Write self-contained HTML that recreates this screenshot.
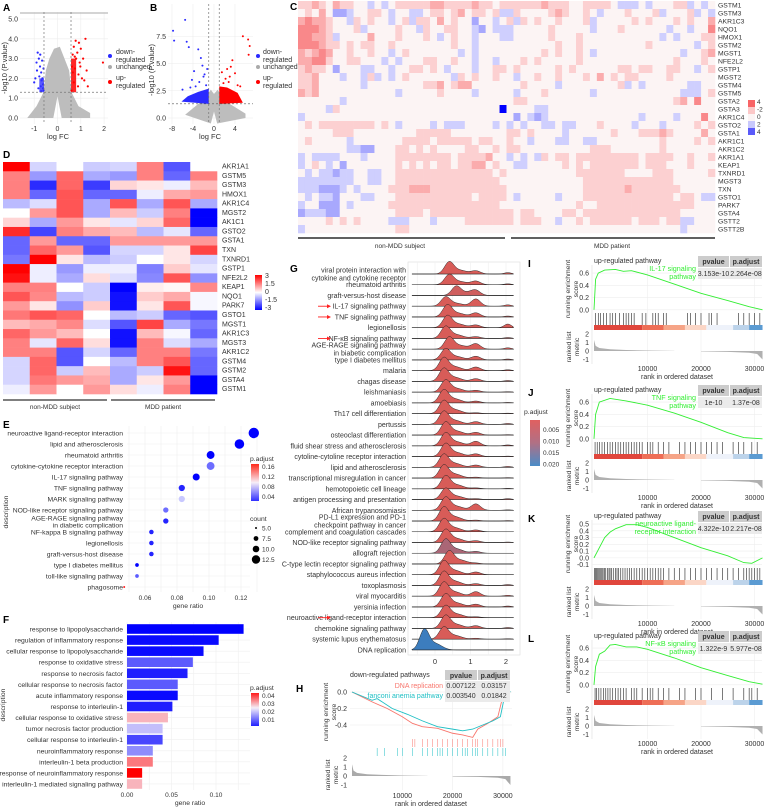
<!DOCTYPE html>
<html><head><meta charset="utf-8"><style>
html,body{margin:0;padding:0;background:#fff}
svg{display:block}
</style></head><body>
<svg id="fig" width="765" height="808" viewBox="0 0 765 808" xmlns="http://www.w3.org/2000/svg" font-family="Liberation Sans, sans-serif"></svg>
<script>
// ---------- DATA ----------
const aBlueX=[-0.6,-0.62,-0.65,-0.7,-0.75,-0.8,-0.85,-0.9,-0.62,-0.68,-0.72,-0.78,-0.95,-1.0,-0.66,-0.74,-0.82,-0.6,-0.7,-0.88];
const aBlueY=[1.4,1.7,2.0,2.3,2.6,3.0,3.3,2.8,1.5,1.9,1.6,2.1,2.0,1.8,2.9,3.2,1.5,2.5,1.35,2.4];
const aRedX=[0.6,0.65,0.7,0.75,0.8,0.85,0.9,0.95,1.0,1.05,1.1,1.2,1.25,0.62,0.7,0.78,0.88,0.98,1.15,1.95,0.66,0.74,0.92,1.3];
const aRedY=[1.4,3.2,3.6,2.5,3.0,3.3,2.2,2.8,3.5,2.0,3.0,4.0,2.4,2.6,1.8,3.9,1.6,2.6,1.9,2.8,2.3,3.1,3.8,1.6];
const aGrayPolyX=[-1.3,-0.9,-0.6,-0.5,-0.35,-0.15,0.1,0.3,0.5,0.6,0.9,1.4,1.4,0.18,0.0,-0.18];
const aGrayPolyY=[0,0.6,1.3,2.4,3.0,3.5,3.6,3.0,2.4,1.3,0.6,0.25,0,0,1.1,0];
const bBlueX=[-7.8,-7.6,-5.5,-5.2,-4.8,-3.0,-2.5,-2.2,-3.8,-4.2,-1.8,-1.5,-2.8,-3.5,-6.0,-4.5,-2.0,-1.3];
const bBlueY=[8.0,7.1,9.0,7.0,6.5,6.3,5.5,4.8,4.3,3.5,4.0,3.0,3.3,2.9,2.6,2.8,3.8,4.5];
const bRedX=[5.5,6.5,6.8,6.6,3.5,3.2,4.0,2.5,2.2,1.8,4.5,5.0,3.0,1.5,2.8];
const bRedY=[7.5,7.2,6.6,5.8,5.3,4.7,4.1,4.5,3.6,3.2,3.0,2.9,3.8,4.2,3.3];
const cGenes=["GSTM1","GSTM3","AKR1C3","NQO1","HMOX1","GSTM2","MGST1","NFE2L2","GSTP1","MGST2","GSTM4","GSTM5","GSTA2","GSTA3","AKR1C4","GSTO2","GSTA1","AKR1C1","AKR1C2","AKR1A1","KEAP1","TXNRD1","MGST3","TXN","GSTO1","PARK7","GSTA4","GSTT2","GSTT2B"];
const cRows=[
"556546554434345555566555565545555556555445555433343444553434",
"454642234455434433455456455453354444565445434445444534445343",
"676654435454434535546454424434535454454445344444545444545446",
"777654445344445443544554432433344444544444344454444443443447",
"776653444464445444543454434443344444544454444444444434344455",
"777655454554454444444454434444444444454454444444445444444345",
"656764454454434544444443434444444445454454344444444444434456",
"667754455444343444554454434434445454444454444444444444544454",
"565542444334434455454344434455454444454544444455455445544345",
"556444344353434544444435454454434454454445464545544445444444",
"556444444344444444556456644444445444434444444453434444443344",
"656444444444443444445444434444434445444444344444444444433345",
"444444344444444444444444444444455444444444444444444444564744",
"444435444444444444444444444440444433444444444444444444444444",
"344444444444444444444444444444424323444444444444434444344474",
"454555555554543444434333444434343443343344454444344434444545",
"444445554444444445555544444444554544443444444544455565444464",
"454444434444444555545555545544544344433443344444444454444545",
"444444433224445545454444554454554444444444555444444454444444",
"343333444344445555555545555644343435455455555555545555445445",
"345434244444445454545545566454433444445454555555545554445444",
"434332334433445555555555555545444444444455555554444555444445",
"333333334433445555555555555554444444444445555555555555444444",
"333222343444455566655555555555444444444445555556555555544444",
"434332444334445555555555545555434444434445555555555555455433",
"344222434444455555555555555554444444444454455555555555555444",
"233322444444445555455555555555545544445545555555555555544444",
"444454545444433344434444555555545554434454555555455545533444",
"344444444444445544444444444444444444444444444444444444434444"];
const dGenes=["AKR1A1","GSTM5","GSTM3","HMOX1","AKR1C4","MGST2","AK1C1","GSTO2","GSTA1","TXN","TXNRD1","GSTP1","NFE2L2","KEAP1","NQO1","PARK7","GSTO1","MGST1","AKR1C3","MGST3","AKR1C2","GSTM4","GSTM2","GSTA4","GSTM1"];
const dVals=[
[3,-0.5,0,-0.6,-0.5,1.5,-2,0],[1.5,-1.2,1.8,-1,-1.2,1.5,-1.8,1.5],[1.5,-2.5,1.8,-2.3,0.5,0.3,-0.2,0.8],
[1.5,-1.8,2,-1.8,-1.8,-0.2,1,1.2],[-0.8,-0.4,2,-1,2,-1,2,-1],[0,1.2,2,-1,0.8,-0.6,1.5,-3],
[0.5,-1,1.2,0.3,-0.3,0.5,1.8,-3],[2.5,-2.2,1.5,1,0.8,-0.8,-0.3,-1.8],[-1.8,1.2,-1.8,-1.8,1.2,1.2,1.2,1.2],
[-1.8,1.8,1.2,-2,-0.5,-0.5,0.3,2.2],[-1.6,3,0.3,-0.8,-0.6,0,0.3,-0.5],[3,-0.2,-1.2,-0.2,-0.2,-1.5,0.6,-0.3],
[2.8,-0.2,-1,0.4,-0.4,-1.4,2,-1.3],[1.5,1.5,0,-0.6,-3,0.2,0.1,1.4],[2,1.4,-0.8,-0.6,-2.8,0.6,1,-0.1],
[1.2,0.3,-1.3,0.6,-2.8,0.3,2,-0.1],[1.6,2,1.8,0,-0.8,-0.6,-1.8,-2],[0.8,1,1.4,-0.4,-2,2.2,-1,-1.6],
[1.8,1.2,0.8,0,-2.8,0.8,-0.1,-1.8],[1.5,-0.3,1.8,0.4,-2.8,1.5,-0.4,-1],[1.5,1.5,-2,-0.5,-1.8,1.5,1.5,-1.6],
[-0.5,1.8,-2,0,-0.8,1.5,2,-1.8],[-0.5,1.8,-0.6,0.8,-1,-0.6,2.8,-1.8],[-0.5,1.6,1.2,1,-1,0.3,1.2,-3],
[-0.2,1.2,0,1.2,0.4,-0.2,1.5,-3]];
const eTerms=["neuroactive ligand-receptor interaction","lipid  and atherosclerosis","rheumatoid arthritis","cytokine-cytokine receptor interaction","IL-17 signaling pathway","TNF signaling pathway","MARK signaling pathway","NOD-like receptor signaling pathway","AGE-RAGE signaling pathway|in diabetic complication","NF-kappa B signaling pathway","legionellosis","graft-versus-host disease","type I diabetes mellitus","toll-like signaling pathway","phagosome"];
const eRatio=[0.128,0.119,0.101,0.101,0.092,0.083,0.083,0.073,0.073,0.064,0.064,0.064,0.055,0.055,0.047];
const eCount=[14,13,11,11,10,9,9,8,8,7,7,7,6,6,4];
const ePadj=[0.02,0.02,0.02,0.05,0.02,0.03,0.075,0.05,0.03,0.03,0.03,0.03,0.02,0.045,0.16];
const eTicks=[0.06,0.08,0.10,0.12];
const fTerms=["response to lipopolysaccharide","regulation of inflammatory response","cellular response to lipopolysaccharide","response to oxidative stress","response to necrosis factor","cellular response to necrosis factor","acute inflammatory response","response to interleulin-1","cellular response to oxidative stress","tumor necrosis factor production","cellular response to interleulin-1","neuroinflammatory response","interleulin-1 beta production","response of neuroinflammatory response","interleulin-1 mediated signaling pathway"];
const fRatio=[0.131,0.103,0.086,0.074,0.068,0.057,0.057,0.051,0.046,0.040,0.040,0.029,0.029,0.017,0.017];
const fPadj=[0.001,0.002,0.002,0.01,0.004,0.01,0.002,0.004,0.03,0.02,0.008,0.015,0.035,0.045,0.03];
const fTicks=[0.00,0.05,0.10];
const gTerms=["viral protein interaction with|cytokine and cytokine receptor","rheumatoid arthritis","graft-versus-host disease","IL-17 signaling pathway","TNF signaling pathway","legionellosis","NF-κB signaling pathway","AGE-RAGE signaling pathway|in biabetic complication","type I diabetes mellitus","malaria","chagas disease","leishmaniasis","amoebiasis","Th17 cell differentiation","pertussis","osteoclast differentiation","fluid shear stress and atherosclerosis","cytoline-cytoline receptor interaction","lipid and atherosclerosis","transcriptional misregulation in cancer","hemotopoietic cell lineage","antigen processing and presentation","African trypanosomiasis","PD-L1 expression and PD-1|checkpoint pathway in cancer","complement and coagulation cascades","NOD-like receptor signaling pathway","allograft rejection","C-type lectin receptor signaling pathway","staphylococcus aureus infection","toxoplasmosis","viral myocarditis","yersinia infection","neuroactive ligand-receptor interaction","chemokine signaling pathway","systemic lupus erythematosus","DNA replication"];
const gCenter=[0.4,0.4,0.6,0.3,0.35,0.35,0.3,0.4,0.3,0.25,0.25,0.3,0.25,0.25,0.25,0.3,0.3,0.3,0.25,0.25,0.3,0.3,0.3,0.25,0.25,0.3,0.3,0.4,0.25,0.25,0.25,0.3,0.3,0.3,0.25,-0.3];
const gHeight=[1.3,1.1,1.0,1.0,1.3,1.3,1.3,1.3,1.2,1.4,1.4,1.3,1.4,1.4,1.4,1.4,1.4,1.4,1.4,1.4,1.4,1.2,1.4,1.5,1.4,1.4,1.5,1.4,1.5,1.5,1.5,1.4,1.3,1.4,1.3,2.2];
const gBump1=[0.35,0.4,0.5,0.8,0.45,0.3,0.2,0.6,0.4,0.4,0.3,0.2,0.2,0.1,0.3,0.3,0.5,0.3,0.25,0.1,0.1,0.1,0.7,0.1,0.2,0.2,0.2,0.1,0.3,0.2,0.5,0.3,0.1,0.3,0.1,0];
const gBump2=[0.15,0.1,0,0.15,0.1,0.4,0.1,0.15,0.1,0.1,0.1,0.05,0.05,0.05,0.1,0.05,0.1,0.05,0.1,0.05,0.05,0.1,0.05,0.05,0,0.05,0,0,0,0.1,0.1,0.1,0,0.1,0.05,0];
const gPadj=[0.003,0.003,0.004,0.003,0.003,0.003,0.003,0.003,0.003,0.003,0.003,0.003,0.003,0.003,0.003,0.003,0.003,0.003,0.003,0.003,0.003,0.003,0.003,0.003,0.003,0.003,0.008,0.003,0.003,0.003,0.003,0.003,0.003,0.003,0.003,0.02];
const gArrowRows=[3,4,6,32];
const gTicks=[0,1,2];
const hRedRank=[0,4,7,10,12,14,17,20,22,24,25,27,29,30,30.5,31.5];
const hRedES=[0,-0.12,-0.2,-0.3,-0.38,-0.42,-0.44,-0.5,-0.52,-0.55,-0.45,-0.38,-0.3,-0.05,0.03,0];
const hCyanRank=[0,4,5,8,11,14,17,20,22,24,26,28,29.5,30.5,31,31.5];
const hCyanES=[0,-0.1,-0.08,-0.2,-0.27,-0.35,-0.42,-0.45,-0.47,-0.45,-0.4,-0.35,-0.3,0,0.02,0];
const hRedHits=[12,12.5,14,15,16,17,18,19,20,21,22,23,24,24.5,25,26,27,28,29,29.5,30];
const hCyanHits=[5,6.5,9,10,12,14,15,16,17,17.5,18,19,20,21,22,22.5,23,24,24.5,25,26,27,28,29,30,30.5];
const rankTicks=[10000,20000,30000];
const metricRank=[0,0.3,1,3,6,10,15,15.01,20,20.01,25,29,30.5,31.5,31.5];
const metricVal=[1.3,0.6,0.35,0.2,0.12,0.06,0.02,0,0,-0.05,-0.1,-0.2,-0.35,-1.0,0];
const upNames=["IL-17 signaling|pathway","TNF signaling|pathway","neuroactive ligand-|receptor interaction","NF-κB signaling|pathway"];
const upP=["3.153e-10","1e-10","4.322e-10","1.322e-9"];
const upPadj=["2.264e-08","1.37e-08","2.217e-08","5.977e-08"];
const upRank=[
[0,0.3,0.8,2,4,5.5,7,10,15,20,25,29,31.5],
[0,0.3,1,3,6,10,15,20,25,28,31.5],
[0,1,2,3,4,6,8,10,15,20,25,28,29.5,31.5],
[0,0.3,1,2,3,4,6,8,10,15,20,25,29,31.5]];
const upES=[
[0,0.5,0.6,0.65,0.66,0.63,0.64,0.57,0.42,0.27,0.15,0.05,0],
[0,0.4,0.6,0.66,0.62,0.55,0.42,0.27,0.1,0.02,0],
[0,0.15,0.3,0.38,0.43,0.49,0.49,0.45,0.3,0.15,0.03,-0.07,-0.08,0],
[0,0.3,0.5,0.55,0.65,0.66,0.62,0.62,0.58,0.44,0.28,0.15,0.05,0.01]];
const upHits=[
[0.3,0.8,1.2,1.8,2.3,3,3.5,4,4.8,5.5,6,6.5,7,7.5,9,9.7,11,11.5,12,13,13.5,17.5,18,19,20,21.5,22,23,27,28,29,30,31],
[0.2,0.6,1,1.5,2,2.5,3,3.5,4,4.5,5,5.5,6,6.5,7,7.5,8,8.5,9,10,10.5,11,12,13,14,16,17,18,19,20,21,22,23,24,26,27,28,29.5,30.5],
[0.1,0.3,0.5,0.7,0.9,1.1,1.3,1.5,1.7,2,2.2,2.5,2.8,3,3.3,3.6,4,4.3,4.6,5,5.4,5.8,6.2,6.6,7,7.5,8,8.5,9,9.5,10,10.5,11,11.5,12,12.5,13,14,15,16,17,18,19,20,21,22,23,24,25,26,27,28,28.5,29,29.5,30,30.5,31],
[0.2,0.5,0.9,1.3,1.8,2.2,2.6,3,3.5,4,4.5,5,5.5,6,7,7.5,8,9,10,10.5,11,12,13,14,16,17,19,20,22,24,26,28,29,29.5,30.5]];
const upYTicks=[[0,0.2,0.4,0.6],[0,0.2,0.4,0.6],[-0.1,0,0.1,0.2,0.3,0.4,0.5],[0,0.2,0.4,0.6]];
const upYMin=[-0.02,-0.02,-0.12,-0.02];
const upYMax=[0.7,0.7,0.53,0.7];
const upTop=[263,392,518,638];
const stripBreaks=[0,9,13,17,21,26,29,31.5];
const stripColors=["#e0463c","#ee6e56","#f6a487","#fbd6c6","#eef2fa","#bcd3ea","#5b9bd2"];

// ---------- HELPERS ----------
const NS="http://www.w3.org/2000/svg";
const S=document.getElementById('fig');
function mk(tag,a,p){const e=document.createElementNS(NS,tag);for(const k in a)e.setAttribute(k,a[k]);(p||S).appendChild(e);return e;}
function tx(x,y,s,a,p){const e=mk('text',Object.assign({x:x,y:y,'font-size':7,fill:'#333'},a||{}),p);e.textContent=s;return e;}
function mix(c1,c2,t){t=Math.max(0,Math.min(1,t));return 'rgb('+c1.map((v,i)=>Math.round(v+(c2[i]-v)*t)).join(',')+')';}
function grp(name){const g=mk('g',{});return g;}
function letter(x,y,s,p){const e=tx(x,y,s,{'font-size':10,'font-weight':'bold',fill:'#000'},p);return e;}
function vtext(x,y,s,p,fs){return tx(x,y,s,{'text-anchor':'middle',transform:'rotate(-90 '+x+' '+y+')','font-size':fs||7},p);}

// ---------- PANEL A ----------
(function(){
const g=grp('panel-a-volcano');
letter(3,11,'A',g);
const xs=v=>57.5+v*23.3, ys=v=>118-v*19.8;
[-1,0,1,2].forEach(v=>{const l=mk('line',{x1:xs(v),x2:xs(v),y1:12,y2:124,stroke:'#ececec','stroke-width':0.6},g);});
[0,1,2,3,4,5].forEach(v=>{const l=mk('line',{x1:20,x2:108,y1:ys(v),y2:ys(v),stroke:'#ececec','stroke-width':0.6},g);});
mk('line',{x1:20,x2:108,y1:13,y2:13,stroke:'#bbb','stroke-width':1.2},g);
const poly=mk('polygon',{points:aGrayPolyX.map((x,i)=>xs(x)+','+ys(aGrayPolyY[i])).join(' '),fill:'#bdbdbd'},g);


aBlueX.forEach((x,i)=>{const c=mk('circle',{cx:xs(x),cy:ys(aBlueY[i]),r:1.1,fill:'#2a2aff'},g);});
const rb=mk('rect',{x:xs(0.58),y:ys(3.0),width:xs(0.8)-xs(0.58),height:ys(1.3)-ys(3.0),fill:'#f00',opacity:0.85},g);


const bb=mk('rect',{x:xs(-0.78),y:ys(2.0),width:xs(-0.58)-xs(-0.78),height:ys(1.3)-ys(2.0),fill:'#3030ff',opacity:0.8},g);


aRedX.forEach((x,i)=>{const c=mk('circle',{cx:xs(x),cy:ys(aRedY[i]),r:1.1,fill:'#f00'},g);});
[-0.58,0.58].forEach(v=>mk('line',{x1:xs(v),x2:xs(v),y1:12,y2:124,stroke:'#777','stroke-width':0.7,'stroke-dasharray':'2,2'},g));
mk('line',{x1:20,x2:108,y1:ys(1.3),y2:ys(1.3),stroke:'#777','stroke-width':0.7,'stroke-dasharray':'2,2'},g);
[-1,0,1,2].forEach(v=>tx(xs(v),131,String(v),{'text-anchor':'middle','font-size':7},g));
['0.0','1.0','2.0','3.0','4.0','5.0'].forEach((s,i)=>tx(18,ys(i)+2.5,s,{'text-anchor':'end'},g));
tx(58,139,'log FC',{'text-anchor':'middle','font-size':7.5},g);
vtext(7,68,'-log10 (P.value)',g,7.5);
const L=[['#2a2aff',54,['down-','regulated']],['#aaa',69,['unchanged']],['#f00',80,['up-','regulated']]];
L.forEach(e=>{const c=mk('circle',{cx:110,cy:e[1]+ (e[2].length>1?2:-2),r:2,fill:e[0]},g);e[2].forEach((s,j)=>tx(116,e[1]+j*8,s,{},g));});
})();

// ---------- PANEL B ----------
(function(){
const g=grp('panel-b-volcano');
letter(150,11,'B',g);
const xs=v=>214+v*5.25, ys=v=>118-v*10.9;
[-8,-4,0,4].forEach(v=>mk('line',{x1:xs(v),x2:xs(v),y1:4,y2:124,stroke:'#ececec','stroke-width':0.6},g));
[0,2.5,5,7.5].forEach(v=>mk('line',{x1:168,x2:253,y1:ys(v),y2:ys(v),stroke:'#ececec','stroke-width':0.6},g));
const gp=mk('polygon',{points:[[-5.5,0.3],[-3,1.3],[-1.5,2.0],[-0.6,2.6],[0,2.2],[0.7,2.6],[1.5,2.0],[3,1.3],[6,0.4],[6,0],[0.6,-0.5],[0,0.6],[-0.6,-0.5]].map(p=>xs(p[0])+','+ys(p[1])).join(' '),fill:'#bdbdbd'},g);


const bbl=mk('path',{d:'M'+xs(-6.2)+','+ys(1.5)+' L'+xs(-1)+','+ys(1.3)+' L'+xs(-1)+','+ys(2.7)+' L'+xs(-3)+','+ys(2.4)+' L'+xs(-5)+','+ys(2.0)+' Z',fill:'#2a2aff'},g);


const rbl=mk('path',{d:'M'+xs(1)+','+ys(1.3)+' L'+xs(5.5)+','+ys(1.4)+' L'+xs(4.5)+','+ys(2.3)+' L'+xs(2.5)+','+ys(2.8)+' L'+xs(1)+','+ys(2.9)+' Z',fill:'#f00'},g);


bBlueX.forEach((x,i)=>{const c=mk('circle',{cx:xs(x),cy:ys(bBlueY[i]),r:1,fill:'#2a2aff'},g);});
bRedX.forEach((x,i)=>{const c=mk('circle',{cx:xs(x),cy:ys(bRedY[i]),r:1,fill:'#f00'},g);});
[-1,1].forEach(v=>mk('line',{x1:xs(v),x2:xs(v),y1:4,y2:124,stroke:'#777','stroke-width':0.7,'stroke-dasharray':'2,2'},g));
mk('line',{x1:168,x2:253,y1:ys(1.3),y2:ys(1.3),stroke:'#555','stroke-width':0.7,'stroke-dasharray':'2,2'},g);
[-8,-4,0,4].forEach(v=>tx(xs(v),131,String(v),{'text-anchor':'middle'},g));
[['0.0',0],['2.5',2.5],['5.0',5],['7.5',7.5]].forEach(t=>tx(166,ys(t[1])+2.5,t[0],{'text-anchor':'end'},g));
tx(210,139,'log FC',{'text-anchor':'middle','font-size':7.5},g);
vtext(154,70,'-log10 (P.value)',g,7.5);
const L=[['#2a2aff',54,['down-','regulated']],['#aaa',69,['unchanged']],['#f00',80,['up-','regulated']]];
L.forEach(e=>{const c=mk('circle',{cx:258,cy:e[1]+(e[2].length>1?2:-2),r:2,fill:e[0]},g);e[2].forEach((s,j)=>tx(263,e[1]+j*8,s,{},g));});
})();

// ---------- PANEL C ----------
(function(){
const g=grp('panel-c-heatmap');
letter(290,10,'C',g);
const x0=298,w=(715-298)/60,y0=1,h=8;
function cc(d){if(d===0)return 'rgb(0,0,255)';const v=d-4;if(v>0)return mix([253,244,244],[248,100,102],v/4);if(v<0)return mix([246,246,255],[90,90,250],-v/4);return 'rgb(252,244,244)';}
cRows.forEach((row,r)=>{for(let c=0;c<row.length;c++){const e=mk('rect',{x:x0+c*w,y:y0+r*h,width:w+0.3,height:h+0.3,fill:cc(+row[c])},g);}
 const t=tx(718,y0+r*h+6.5,cGenes[r],{'font-size':6.8},g);});
const lg=[[248,100,102],[252,200,200],[252,244,244],[200,200,252],[90,90,250]];
lg.forEach((c,i)=>mk('rect',{x:748,y:100+i*7,width:7,height:7,fill:'rgb('+c.join(',')+')'},g));
['4','-2','0','2','4'].forEach((s,i)=>tx(757,104+i*7.5,s,{'font-size':6.5},g));
mk('line',{x1:298,x2:505,y1:238,y2:238,stroke:'#000','stroke-width':1.2},g);
mk('line',{x1:511,x2:715,y1:238,y2:238,stroke:'#000','stroke-width':1.2},g);
tx(400,248,'non-MDD subject',{'text-anchor':'middle','font-size':6.5},g);
tx(612,248,'MDD patient',{'text-anchor':'middle','font-size':6.5},g);
})();

// ---------- PANEL D ----------
(function(){
const g=grp('panel-d-heatmap');
letter(3,158,'D',g);
const x0=3,w=(217-3)/8,y0=162,h=9.28;
function dc(v){return v>=0?mix([255,255,255],[255,0,0],v/3):mix([255,255,255],[0,0,255],-v/3);}
dVals.forEach((row,r)=>{row.forEach((v,c)=>{const e=mk('rect',{x:x0+c*w,y:y0+r*h,width:w+0.3,height:h+0.3,fill:dc(v)},g);});
 const t=tx(222,y0+r*h+6.5,dGenes[r],{'font-size':7},g);});
const gr=mk('linearGradient',{id:'dg',x1:0,y1:0,x2:0,y2:1},S);
[['0','#ff0000'],['0.5','#ffffff'],['1','#0000ff']].forEach(s=>mk('stop',{offset:s[0],'stop-color':s[1]},gr));
mk('rect',{x:255,y:275,width:7,height:35,fill:'url(#dg)'},g);
['3','1.5','0','-1.5','-3'].forEach((s,i)=>tx(265,278+i*8,s,{'font-size':7},g));
mk('line',{x1:3,x2:107,y1:400,y2:400,stroke:'#333','stroke-width':1.2},g);
mk('line',{x1:111,x2:215,y1:400,y2:400,stroke:'#333','stroke-width':1.2},g);
tx(55,409,'non-MDD subject',{'text-anchor':'middle','font-size':6.5},g);
tx(163,409,'MDD patient',{'text-anchor':'middle','font-size':6.5},g);
})();

// ---------- PANEL E ----------
(function(){
const g=grp('panel-e-dotplot');
letter(3,428,'E',g);
const xs=v=>145+(v-0.06)/0.02*32, ys=i=>433+i*11;
for(let v=0.05;v<=0.131;v+=0.01){mk('line',{x1:xs(v),x2:xs(v),y1:426,y2:592,stroke:'#efefef','stroke-width':0.6},g);}
eTerms.forEach((t,i)=>{mk('line',{x1:127,x2:250,y1:ys(i),y2:ys(i),stroke:'#efefef','stroke-width':0.6},g);
 const parts=t.split('|');parts.forEach((p,j)=>{const e=tx(123,ys(i)+2.5+(parts.length>1?(j*7-3):0),p,{'text-anchor':'end','font-size':6.8},g);});});
function ec(p){return p<0.09?mix([0,0,255],[255,255,255],(p-0.02)/0.07):mix([255,255,255],[255,0,0],(p-0.09)/0.08);}
eRatio.forEach((v,i)=>{const c=mk('circle',{cx:xs(v),cy:ys(i),r:Math.max(0.8,(eCount[i]-4)*0.42+1),fill:ec(ePadj[i])},g);});
eTicks.forEach(v=>tx(xs(v),600,v.toFixed(2),{'text-anchor':'middle','font-size':6.5},g));
tx(188,608,'gene ratio',{'text-anchor':'middle','font-size':6.8},g);
vtext(8,512,'description',g,6.8);
tx(250,461,'p.adjust',{'font-size':6.8},g);
const gr=mk('linearGradient',{id:'eg',x1:0,y1:0,x2:0,y2:1},S);
[['0','#ff2a1a'],['0.5','#f7eef7'],['1','#3030ff']].forEach(s=>mk('stop',{offset:s[0],'stop-color':s[1]},gr));
mk('rect',{x:251,y:464,width:8,height:37,fill:'url(#eg)'},g);
['0.16','0.12','0.08','0.04'].forEach((s,i)=>tx(262,469+i*10,s,{'font-size':6.5},g));
tx(250,521,'count',{'font-size':6.8},g);
[[1,'5.0'],[2.4,'7.5'],[3.3,'10.0'],[4.2,'12.5']].forEach((c,i)=>{mk('circle',{cx:256,cy:528+i*10.5,r:c[0],fill:'#000'},g);tx(262,530.5+i*10.5,c[1],{'font-size':6.5},g);});
})();

// ---------- PANEL F ----------
(function(){
const g=grp('panel-f-barchart');
letter(3,623,'F',g);
const xs=v=>127+v*890, ys=i=>629+i*11.07;
[0,0.025,0.05,0.075,0.1,0.125].forEach(v=>mk('line',{x1:xs(v),x2:xs(v),y1:622,y2:790,stroke:'#efefef','stroke-width':0.6},g));
function fc(p){return p<0.025?mix([0,0,255],[246,240,250],(p-0.001)/0.024):mix([246,240,250],[255,0,0],(p-0.025)/0.02);}
fTerms.forEach((t,i)=>{mk('line',{x1:127,x2:250,y1:ys(i),y2:ys(i),stroke:'#efefef','stroke-width':0.6},g);
 const e=tx(123,ys(i)+2.5,t,{'text-anchor':'end','font-size':6.8},g);
 const b=mk('rect',{x:xs(0),y:ys(i)-4.8,width:xs(fRatio[i])-xs(0),height:9.6,fill:fc(fPadj[i])},g);});
fTicks.forEach(v=>tx(xs(v),797,v.toFixed(2),{'text-anchor':'middle','font-size':6.5},g));
tx(190,805,'gene ratio',{'text-anchor':'middle','font-size':6.8},g);
vtext(5,705,'description',g,6.8);
tx(250,690,'p.adjust',{'font-size':6.8},g);
const gr=mk('linearGradient',{id:'fg',x1:0,y1:0,x2:0,y2:1},S);
[['0','#ff1a1a'],['0.45','#f4eef8'],['1','#2020ff']].forEach(s=>mk('stop',{offset:s[0],'stop-color':s[1]},gr));
mk('rect',{x:251,y:693,width:8,height:33,fill:'url(#fg)'},g);
['0.04','0.03','0.02','0.01'].forEach((s,i)=>tx(262,698+i*8,s,{'font-size':6.5},g));
})();

// ---------- PANEL G ----------
(function(){
const g=grp('panel-g-ridgeplot');
letter(290,272,'G',g);
const xs=v=>435+v*35.5, rowY=i=>274+i*10.74, unit=10.74*0.85;
mk('rect',{x:408,y:262,width:112,height:393,fill:'#fff',stroke:'#ddd','stroke-width':0.6},g);
[-0.5,0,0.5,1,1.5,2].forEach(v=>mk('line',{x1:xs(v),x2:xs(v),y1:262,y2:655,stroke:'#eee','stroke-width':0.6},g));
function gc(p){return mix([216,92,88],[60,125,190],(p-0.003)/0.017);}
gTerms.forEach((t,i)=>{
 const y0=rowY(i);
 mk('line',{x1:412,x2:514,y1:y0,y2:y0,stroke:'#555','stroke-width':0.6},g);
 let d='M'+xs(-0.65)+','+y0;
 for(let x=-0.65;x<=2.2;x+=0.025){
  const c=gCenter[i];
  const dens=gHeight[i]*Math.exp(-Math.pow(x-c,2)/(2*0.13*0.13))+0.3*gHeight[i]*Math.exp(-Math.pow(x-c-0.32,2)/(2*0.18*0.18))+gBump1[i]*Math.exp(-Math.pow(x-1.15,2)/(2*0.13*0.13))+gBump2[i]*Math.exp(-Math.pow(x-2.05,2)/(2*0.1*0.1));
  d+=' L'+xs(x).toFixed(2)+','+(y0-Math.min(dens,2.6)*unit).toFixed(2);
 }
 d+=' L'+xs(2.2)+','+y0+' Z';
 const p=mk('path',{d:d,fill:gc(gPadj[i]),stroke:'#222','stroke-width':0.5,'stroke-linejoin':'round'},g);
 
 
 const parts=t.split('|');
 parts.forEach((s,j)=>{const e=tx(406,y0+2.5+(parts.length>1?(j*8-4):0),s,{'text-anchor':'end','font-size':7},g);});
});
gArrowRows.forEach(r=>{const y=rowY(r);const a=mk('g',{},g);
 mk('line',{x1:318,x2:330,y1:y,y2:y,stroke:'#f22','stroke-width':0.9},a);mk('polygon',{points:'331,'+y+' 327,'+(y-2)+' 327,'+(y+2),fill:'#f22'},a);});
gTicks.forEach(v=>tx(xs(v),664,String(v),{'text-anchor':'middle','font-size':7.5},g));
tx(524,414,'p.adjust',{'font-size':6.8},g);
const gr=mk('linearGradient',{id:'gg',x1:0,y1:0,x2:0,y2:1},S);
[['0','#e06060'],['0.5','#b07085'],['1','#4a8cc8']].forEach(s=>mk('stop',{offset:s[0],'stop-color':s[1]},gr));
mk('rect',{x:530,y:420,width:10,height:46,fill:'url(#gg)'},g);
['0.005','0.010','0.015','0.020'].forEach((s,i)=>tx(543,432+i*11.5,s,{'font-size':6.5},g));
})();

// ---------- PANEL H ----------
(function(){
const g=grp('panel-h-gsea-down');
letter(296,692,'H',g);
const xs=r=>352+r*0.00503, ys=v=>692-v*82.5, ms=v=>776-v*9;
rankTicks.forEach(v=>mk('line',{x1:xs(v),x2:xs(v),y1:684,y2:790,stroke:'#eee','stroke-width':0.6},g));
[0,-0.2,-0.4].forEach(v=>{mk('line',{x1:350,x2:512,y1:ys(v),y2:ys(v),stroke:'#eee','stroke-width':0.6},g);tx(347,ys(v)+2.5,v.toFixed(1),{'text-anchor':'end'},g);});
const lr=mk('polyline',{points:hRedRank.map((r,i)=>xs(r*1000)+','+ys(hRedES[i])).join(' '),fill:'none',stroke:'#f8766d','stroke-width':0.9},g);


const lc=mk('polyline',{points:hCyanRank.map((r,i)=>xs(r*1000)+','+ys(hCyanES[i])).join(' '),fill:'none',stroke:'#1fbfc4','stroke-width':0.9},g);


hRedHits.forEach(r=>{const l=mk('line',{x1:xs(r*1000),x2:xs(r*1000),y1:739,y2:747,stroke:'#f8766d','stroke-width':0.5},g);});
hCyanHits.forEach(r=>{const l=mk('line',{x1:xs(r*1000),x2:xs(r*1000),y1:748,y2:756,stroke:'#1fbfc4','stroke-width':0.5},g);});
const mp=mk('polygon',{points:[xs(0)+','+ms(0)].concat(metricRank.map((r,i)=>xs(r*1000)+','+ms(metricVal[i]))).join(' '),fill:'#aaa'},g);


[2,1,0,-1].forEach(v=>tx(347,ms(v)+2.5,String(v),{'text-anchor':'end'},g));
rankTicks.forEach(v=>tx(xs(v),798,String(v),{'text-anchor':'middle'},g));
tx(431,806,'rank in ordered dataset',{'text-anchor':'middle'},g);
vtext(328,712,'running enrichment',g,6.8);vtext(336,712,'score',g,6.8);
vtext(330,775,'ranked list',g,6.8);vtext(338,775,'metric',g,6.8);
tx(350,677,'down-regulated pathways',{},g);
mk('rect',{x:445,y:670,width:32,height:10,fill:'#ccc'},g);mk('rect',{x:478,y:670,width:32,height:10,fill:'#ccc'},g);
tx(461,678,'pvalue',{'text-anchor':'middle','font-weight':'bold'},g);tx(494,678,'p.adjust',{'text-anchor':'middle','font-weight':'bold'},g);
mk('rect',{x:445,y:681,width:65,height:21,fill:'#ebebeb'},g);
tx(443,688,'DNA replication',{'text-anchor':'end',fill:'#f8766d'},g);
tx(443,698,'fanconi anemia pathway',{'text-anchor':'end',fill:'#1fbfc4'},g);
tx(461,688,'0.007122',{'text-anchor':'middle'},g);tx(494,688,'0.03157',{'text-anchor':'middle'},g);
tx(461,698,'0.003540',{'text-anchor':'middle'},g);tx(494,698,'0.01842',{'text-anchor':'middle'},g);
})();

// ---------- PANELS I-L ----------
['I','J','K','L'].forEach((Lt,k)=>{
const g=grp('panel-'+Lt.toLowerCase()+'-gsea-up');
const T=upTop[k];
letter(528,T+4,Lt,g);
const xs=r=>594+r*0.00535;
const esTop=T+4, esBot=T+48;
const ys=v=>esBot-(v-upYMin[k])/(upYMax[k]-upYMin[k])*(esBot-esTop);
const ms=v=>T+88-v*8.5;
rankTicks.forEach(v=>mk('line',{x1:xs(v),x2:xs(v),y1:T+2,y2:T+101,stroke:'#eee','stroke-width':0.6},g));
mk('line',{x1:592,x2:592,y1:T+2,y2:T+101,stroke:'#ddd','stroke-width':0.6},g);
upYTicks[k].forEach(v=>{mk('line',{x1:592,x2:762,y1:ys(v),y2:ys(v),stroke:'#eee','stroke-width':0.6},g);tx(589,ys(v)+2.5,v.toFixed(1),{'text-anchor':'end'},g);});
const es=mk('polyline',{points:upRank[k].map((r,i)=>xs(r*1000)+','+ys(upES[k][i])).join(' '),fill:'none',stroke:'#33ee33','stroke-width':0.9},g);


upHits[k].forEach(r=>{const l=mk('line',{x1:xs(r*1000),x2:xs(r*1000),y1:T+50,y2:T+62,stroke:'#222','stroke-width':0.6},g);});
stripColors.forEach((c,i)=>{const e=mk('rect',{x:xs(stripBreaks[i]*1000),y:T+62,width:xs(stripBreaks[i+1]*1000)-xs(stripBreaks[i]*1000),height:5,fill:c},g);});
const mp=mk('polygon',{points:[xs(0)+','+ms(0)].concat(metricRank.map((r,i)=>xs(r*1000)+','+ms(metricVal[i]))).join(' '),fill:'#b0b0b0'},g);


[2,1,0,-1].forEach(v=>tx(589,ms(v)+2.5,String(v),{'text-anchor':'end'},g));
rankTicks.forEach(v=>tx(xs(v),T+108,String(v),{'text-anchor':'middle'},g));
tx(677,T+116,'rank in ordered dataset',{'text-anchor':'middle'},g);
vtext(570,T+26,'running enrichment',g,6.8);vtext(578,T+26,'score',g,6.8);
vtext(571,T+84,'ranked list',g,6.8);vtext(579,T+84,'metric',g,6.8);
tx(594,T,'up-regulated pathway',{},g);
mk('rect',{x:698,y:T-7,width:31,height:11,fill:'#ccc'},g);mk('rect',{x:730,y:T-7,width:32,height:11,fill:'#ccc'},g);
tx(713.5,T+1,'pvalue',{'text-anchor':'middle','font-weight':'bold'},g);tx(746,T+1,'p.adjust',{'text-anchor':'middle','font-weight':'bold'},g);
mk('rect',{x:698,y:T+5,width:64,height:11,fill:'#ebebeb'},g);
tx(713.5,T+13,upP[k],{'text-anchor':'middle'},g);tx(746,T+13,upPadj[k],{'text-anchor':'middle'},g);
upNames[k].split('|').forEach((s,j)=>tx(696,T+8+j*8,s,{'text-anchor':'end',fill:'#33ee33','font-size':7.2},g));
});
</script>
</body></html>
